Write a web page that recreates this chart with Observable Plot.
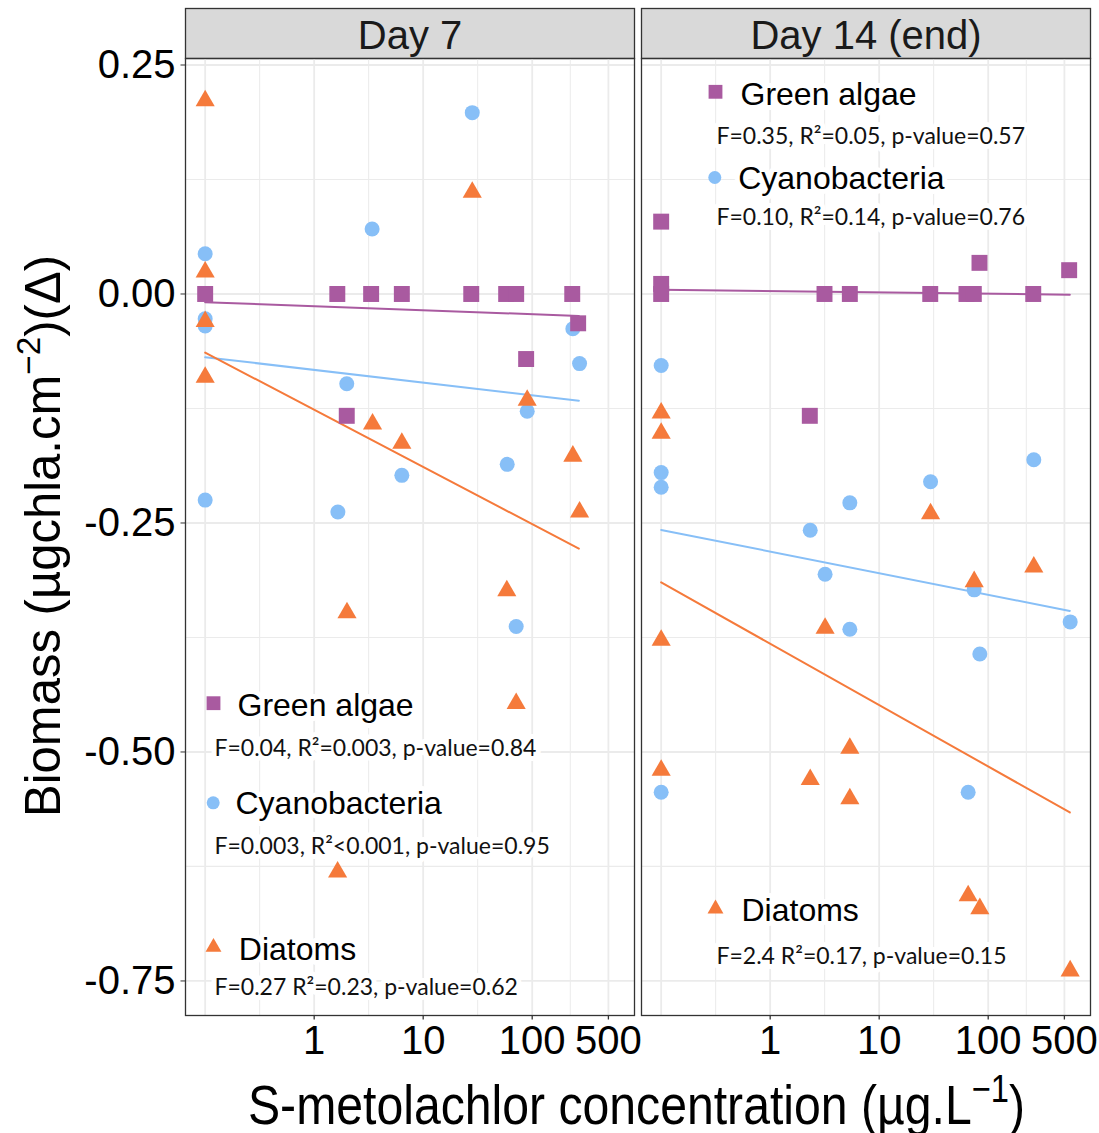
<!DOCTYPE html>
<html>
<head>
<meta charset="utf-8">
<script src="https://cdn.jsdelivr.net/npm/d3@7"></script>
<script src="https://cdn.jsdelivr.net/npm/@observablehq/plot@0.6"></script>
<style>
  body { margin: 0; background: #fff; }
  #chart { width: 1099px; height: 1133px; }
</style>
</head>
<body>
<div id="chart"></div>
<script>
// ---------- data ----------
const panels = ["Day 7", "Day 14 (end)"];
const groups = ["Green algae", "Cyanobacteria", "Diatoms"];

// Day 7
const green7_x  = [0.1, 1.63, 3.33, 6.37, 27.6, 57.7, 71.3, 233, 264, 88, 1.99];
const green7_y  = [0, 0, 0, 0, 0, 0, 0, 0, -0.032, -0.071, -0.133];
const cyano7_x  = [28.2, 3.4, 0.1, 0.1, 0.1, 236, 272, 1.99, 90, 6.37, 59, 0.1, 1.65, 71.3];
const cyano7_y  = [0.198, 0.071, 0.044, -0.027, -0.035, -0.038, -0.076, -0.098, -0.128, -0.198, -0.186, -0.225, -0.238, -0.363];
const diatom7_x = [0.1, 28.2, 0.1, 0.1, 0.1, 90, 3.43, 6.37, 236, 272, 58.5, 2.0, 71.3, 1.64];
const diatom7_y = [0.211, 0.111, 0.024, -0.030, -0.091, -0.116, -0.142, -0.163, -0.177, -0.238, -0.324, -0.348, -0.447, -0.631];

// Day 14 (end)
const green14_x  = [0.1, 0.1, 0.1, 3.15, 5.38, 29.4, 63.2, 73.8, 83.2, 259, 553, 2.31];
const green14_y  = [0.079, 0.011, 0, 0, 0, 0, 0, 0, 0.034, 0, 0.026, -0.133];
const cyano14_x  = [0.1, 0.1, 0.1, 262, 29.6, 5.38, 2.33, 3.19, 74.4, 565, 5.38, 83.8, 0.1, 65.5];
const cyano14_y  = [-0.078, -0.195, -0.211, -0.181, -0.205, -0.228, -0.258, -0.306, -0.323, -0.358, -0.366, -0.393, -0.544, -0.544];
const diatom14_x = [0.1, 0.1, 29.6, 262, 74.4, 3.19, 0.1, 5.38, 0.1, 2.33, 5.38, 65.5, 83.8, 565];
const diatom14_y = [-0.130, -0.152, -0.240, -0.298, -0.314, -0.365, -0.378, -0.496, -0.520, -0.530, -0.551, -0.657, -0.671, -0.739];

// fitted regression lines (end points)
const fit7_x  = [0.1, 268];
const fit7_green  = [-0.009, -0.024];
const fit7_cyano  = [-0.069, -0.1165];
const fit7_diatom = [-0.064, -0.278];
const fit14_x = [0.1, 561];
const fit14_green  = [0.0047, -0.0008];
const fit14_cyano  = [-0.2576, -0.346];
const fit14_diatom = [-0.3148, -0.566];

// axis ticks and grid
const xTicks = [1, 10, 100, 500];
const xTickLabels = ["1", "10", "100", "500"];
const xMajor = [0.1, 1, 10, 100, 500];
const xMinor = [0.316, 3.16, 31.6, 223.6];
const yTicks = [0.25, 0, -0.25, -0.5, -0.75];
const yMinor = [0.125, -0.125, -0.375, -0.625];

// annotation texts
const stats = {
  "Day 7": ["F=0.04, R²=0.003, p-value=0.84", "F=0.003, R²<0.001, p-value=0.95", "F=0.27 R²=0.23, p-value=0.62"],
  "Day 14 (end)": ["F=0.35, R²=0.05, p-value=0.57", "F=0.10, R²=0.14, p-value=0.76", "F=2.4 R²=0.17, p-value=0.15"]
};
const xTitle = ["S-metolachlor concentration (µg.L", "−1", ")"];
const yTitle = ["Biomass (µgchla.cm", "−2", ")(Δ)"];

// ---------- styles / layout ----------
const colors = {"Green algae": "#a95aa0", "Cyanobacteria": "#87bff7", "Diatoms": "#f57a3b"};
const symbols = {"Green algae": "square", "Cyanobacteria": "circle", "Diatoms": "triangle"};
const radius = {"Green algae": 9, "Cyanobacteria": 7.5, "Diatoms": 7.1};
const legendR = {"Green algae": 7.8, "Cyanobacteria": 6.5, "Diatoms": 5.9};
// legend offsets from each panel's top-left corner: [symbol dx, dy], [name dx, dy], [stat dx, dy]
const legendLayout = {
  "Day 7": [
    {sym: [28, 644.7], name: [52, 647.7], stat: [29, 690.3]},
    {sym: [27.7, 744.3], name: [50, 745.3], stat: [29, 788.6]},
    {sym: [28, 888.7], name: [53.3, 891.3], stat: [29, 929.6]}
  ],
  "Day 14 (end)": [
    {sym: [74, 33.3], name: [99, 36.7], stat: [75, 78.6]},
    {sym: [73.3, 119], name: [96.7, 120.7], stat: [75, 159.3]},
    {sym: [74, 850.3], name: [100, 852.7], stat: [75, 898]}
  ]
};

// ---------- tables ----------
const points = [];
function addPts(panel, group, xs, ys) { xs.forEach((x, i) => points.push({panel, group, x, y: ys[i]})); }
addPts("Day 7", "Green algae", green7_x, green7_y);
addPts("Day 7", "Cyanobacteria", cyano7_x, cyano7_y);
addPts("Day 7", "Diatoms", diatom7_x, diatom7_y);
addPts("Day 14 (end)", "Green algae", green14_x, green14_y);
addPts("Day 14 (end)", "Cyanobacteria", cyano14_x, cyano14_y);
addPts("Day 14 (end)", "Diatoms", diatom14_x, diatom14_y);

const fits = [];
function addFit(panel, group, xs, ys) { xs.forEach((x, i) => fits.push({panel, group, x, y: ys[i]})); }
addFit("Day 7", "Green algae", fit7_x, fit7_green);
addFit("Day 7", "Cyanobacteria", fit7_x, fit7_cyano);
addFit("Day 7", "Diatoms", fit7_x, fit7_diatom);
addFit("Day 14 (end)", "Green algae", fit14_x, fit14_green);
addFit("Day 14 (end)", "Cyanobacteria", fit14_x, fit14_cyano);
addFit("Day 14 (end)", "Diatoms", fit14_x, fit14_diatom);

const xTickData = xTicks.map((v, i) => ({v, label: xTickLabels[i]}));

// ---------- marks ----------
const gridColor = "#ebebeb";
const marks = [
  // strips
  Plot.frame({fill: "#d9d9d9", stroke: "#333", strokeWidth: 1.3, insetTop: -50, insetBottom: 957}),
  Plot.text(panels, {fx: d => d, text: d => d, frameAnchor: "top", lineAnchor: "middle", dy: -22, fontSize: 40, fill: "#1a1a1a"}),
  // grid
  Plot.ruleX(xMinor, {stroke: gridColor, strokeWidth: 1}),
  Plot.ruleY(yMinor, {stroke: gridColor, strokeWidth: 1.2}),
  Plot.ruleX(xMajor, {stroke: gridColor, strokeWidth: 1.8}),
  Plot.ruleY(yTicks, {stroke: gridColor, strokeWidth: 1.8})
];

// legends / annotations
for (const p of panels) {
  groups.forEach((g, i) => {
    const L = legendLayout[p][i];
    marks.push(Plot.text([p], {fx: d => d, text: () => g, frameAnchor: "top-left", lineAnchor: "middle", textAnchor: "start",
      dx: L.name[0], dy: L.name[1], fontSize: 32, fill: "black", stroke: "white", strokeWidth: 10}));
    marks.push(Plot.text([p], {fx: d => d, text: () => stats[p][i], frameAnchor: "top-left", lineAnchor: "middle", textAnchor: "start",
      dx: L.stat[0], dy: L.stat[1], fontSize: 23, fontFamily: "Lato, 'Open Sans', sans-serif", fill: "#111", stroke: "white", strokeWidth: 10}));
    marks.push(Plot.dot([p], {fx: d => d, frameAnchor: "top-left", dx: L.sym[0], dy: L.sym[1],
      symbol: symbols[g], r: legendR[g], fill: colors[g], stroke: "none"}));
  });
}

// fitted lines
for (const g of groups) {
  marks.push(Plot.line(fits.filter(d => d.group === g), {fx: "panel", x: "x", y: "y", z: "panel", stroke: colors[g], strokeWidth: 2}));
}
// points
for (const g of ["Cyanobacteria", "Green algae", "Diatoms"]) {
  marks.push(Plot.dot(points.filter(d => d.group === g), {fx: "panel", x: "x", y: "y", symbol: symbols[g], r: radius[g], fill: colors[g], stroke: "none"}));
}
// panel border
marks.push(Plot.frame({stroke: "#333", strokeWidth: 1.3}));
// x axis: tick marks below each panel + labels
marks.push(Plot.ruleX(xTicks, {x: d => d, stroke: "#333", strokeWidth: 1.3, insetTop: 957, insetBottom: -4.5}));
marks.push(Plot.text(xTickData, {x: "v", text: "label", frameAnchor: "bottom", lineAnchor: "top", dy: 10, fontSize: 40, fill: "black"}));
// y axis
marks.push(Plot.axisY({ticks: yTicks, tickFormat: d => d.toFixed(2), tickSize: 4.5, tickPadding: 5.5, fontSize: 40, label: null, anchor: "left", stroke: "#333", fill: "black"}));

const plot = Plot.plot({
  width: 1099,
  height: 1133,
  marginLeft: 185,
  marginRight: 9,
  marginTop: 58,
  marginBottom: 118,
  style: {fontFamily: "'Liberation Sans', Arial, sans-serif", background: "white", color: "black", overflow: "visible"},
  fx: {domain: panels, paddingInner: 0.01535, paddingOuter: 0, round: false, axis: null, label: null},
  x: {type: "log", domain: [0.066, 868], axis: null},
  y: {domain: [-0.7877, 0.2571], axis: null},
  marks
});

// axis titles (with superscripts)
const svg = d3.select(plot);
const xt = svg.append("text")
  .attr("x", 636.5).attr("y", 1124)
  .attr("text-anchor", "middle")
  .attr("font-size", 56)
  .attr("fill", "black")
  .attr("textLength", 777).attr("lengthAdjust", "spacingAndGlyphs");
xt.append("tspan").text(xTitle[0]);
xt.append("tspan").attr("font-size", 38).attr("dy", -22).text(xTitle[1]);
xt.append("tspan").attr("dy", 22).text(xTitle[2]);

const yt = svg.append("text")
  .attr("transform", "translate(60,536) rotate(-90)")
  .attr("text-anchor", "middle")
  .attr("font-size", 50)
  .attr("fill", "black")
  .attr("textLength", 562).attr("lengthAdjust", "spacingAndGlyphs");
yt.append("tspan").text(yTitle[0]);
yt.append("tspan").attr("font-size", 34).attr("dy", -20).text(yTitle[1]);
yt.append("tspan").attr("dy", 20).text(yTitle[2]);

document.getElementById("chart").appendChild(plot);
</script>
</body>
</html>
